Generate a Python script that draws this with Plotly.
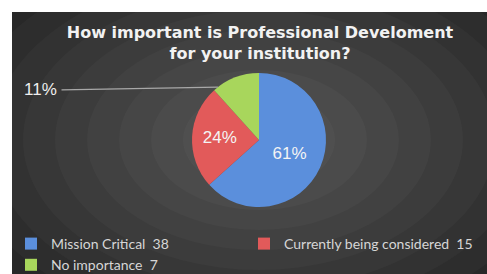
import math
import plotly.graph_objects as go

categories = ["Mission Critical", "Currently being considered", "No importance"]
counts = [38, 15, 7]
pct_labels = ["61%", "24%", "11%"]
colors = ["#5b8fdc", "#e25a5a", "#a8d65c"]
title_text = "How important is Professional Develoment<br>for your institution?"

W, H = 487, 274
# pie geometry in pixels
cx, cy, r = 259, 140, 67

legend_names = [f"{c}  {n}" for c, n in zip(categories, counts)]
inside_text = [pct_labels[0], pct_labels[1], ""]

fig = go.Figure()
fig.add_trace(go.Pie(
    labels=legend_names,
    values=counts,
    text=inside_text,
    textinfo="text",
    textposition="inside",
    insidetextfont=dict(color="#f4f4f4", size=17, family="Liberation Sans"),
    marker=dict(colors=colors, line=dict(width=0)),
    sort=False,
    direction="clockwise",
    rotation=0,
    domain=dict(x=[(cx - r) / W, (cx + r) / W], y=[1 - (cy + r) / H, 1 - (cy - r) / H]),
    hoverinfo="label+percent",
))

# background panel with soft radial glow
shapes = [dict(type="rect", xref="paper", yref="paper", x0=12 / W, x1=1, y0=0, y1=1 - 12 / H,
               fillcolor="#282828", line=dict(width=0), layer="below")]
for i in range(8):
    rx = 300 - i * 32
    ry = 190 - i * 20
    shapes.append(dict(type="circle", xref="paper", yref="paper",
                       x0=(cx - rx) / W, x1=(cx + rx) / W,
                       y0=1 - (cy + ry) / H, y1=1 - (cy - ry) / H,
                       fillcolor="rgba(255,255,255,0.026)", line=dict(width=0), layer="below"))

# outside label for smallest slice, leader line to its edge
total = sum(counts)
start = sum(counts[:2]) / total * 360
end = 360
ang = start + (end - start) * 0.1
tipx = cx + r * math.sin(math.radians(ang))
tipy = cy - r * math.cos(math.radians(ang))
lab_x, lab_y = 40, 89

fig.update_layout(
    width=W, height=H,
    margin=dict(l=0, r=0, t=0, b=0, autoexpand=False),
    paper_bgcolor="white",
    plot_bgcolor="white",
    shapes=shapes,
    title=dict(text=title_text, x=260 / W, xanchor="center", y=1 - 38 / H, yanchor="top",
               font=dict(family="DejaVu Sans", size=16, color="#f2f2f2", weight="bold")),
    showlegend=True,
    legend=dict(orientation="h", x=11 / W, xanchor="left", y=1 - 228 / H, yanchor="top",
                font=dict(family="Lato", size=14, color="#d6d6d6"),
                bgcolor="rgba(0,0,0,0)", entrywidth=188, entrywidthmode="pixels",
                itemwidth=30, traceorder="normal"),
    annotations=[dict(
        xref="paper", yref="paper",
        x=tipx / W, y=1 - tipy / H,
        ax=(lab_x + 20) - tipx, ay=(lab_y + 1) - tipy,
        text="", showarrow=True, arrowhead=0, arrowwidth=1.2, arrowcolor="#a8a8a8",
    ), dict(
        xref="paper", yref="paper", x=lab_x / W, y=1 - lab_y / H,
        text=pct_labels[2], showarrow=False, xanchor="center", yanchor="middle",
        font=dict(family="Liberation Sans", size=17, color="#eeeeee"),
    )],
)

fig.write_html("out.html", config={"displayModeBar": False},
               post_script="document.body.style.margin='0px';")
